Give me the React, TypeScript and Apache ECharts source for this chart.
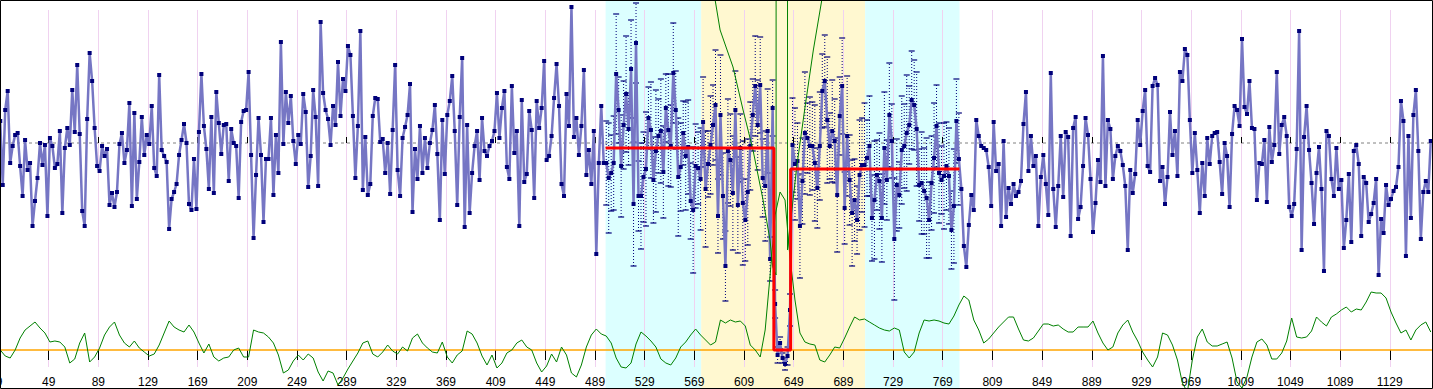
import React, { useEffect, useRef } from "react";
import * as echarts from "echarts";

// ---- axis ----
const X_MIN = 9;
const X_MAX = 1163;
const TICK_STEP = 40;

// ---- main series (sampled every 2 units from x = 10) ----
const MAIN_START = 10;
const MAIN_STEP = 2;
const mainSeg1 = [
  22, -42, 33, 52, -20, -3, 8, 10, -23, -53,
  3, -27, -20, -83, -58, -35, 0, -22, -2, -73,
  5, -3, -25, -21, 12, -70, -5, 15, -2, 53,
  11, 78, 9, -68, -83, 24, 90, 62, 15, -23,
  -28, -3, -13, -6, -62, -50, -64, -49, -1, 10,
  -20, -7, 40, -63, 30, -56, -19, 26, -12, 8,
  -1, 37, -25, -33, 68, -7, -13, -19, -86, -56,
  -49, -41, -12, 3, 19, 0, -61, -67, -16, -66,
  11, 69, 17, -6, -46, 26, -50, 51, 20, -11,
  18, 19, -38, 14, 0, -3, -55,
];
const mainSeg2 = [
  21, 32, 33, 71, -12, -95, -32, 25, -12, -79,
  -16, -16, 25, -52, 8, -30, 101, -1, 51, 20,
  47, 2, -21, 8, -1, 49, 31, -44, -13, 53,
  26, -43, 121, 50, 33, 24, -2, 37, 18, 81,
  27, 64, 52, 97, 88, 27, -35, 17, 112, -47,
  6, -52, -41, 27, 45, 44, 1, 4, -30, 0,
  -51, 13, 78, -27, -53, 5, 16, 28, 59, -69,
  -6, -36, 17, -30, 5, -25, 0, 13, 38, -11,
  -77, 23, -31, 28, 42, 67, 12, -62, 26, 85,
  -84, 18, -70, -30, -3, 12, -37,
];
const mainSeg3 = [
  25, -8, -13, -3, 2, 12, 50, 5, 35, 52,
  -24, -36, 57, -10, 12, -83, 43, -39, -31, 32,
  13, -55, 42, 15, 35, 82, -17, -13, 7, 45,
  79, 37, -41, -53, 49, 17, 136, 6, 25, -12,
  17, 73, -32, -7, -41, 12, -111, -20, 37, -20,
  -20, -35, -30, -20, 69, 33, -23, 18, 49, 14,
  74, -61, 100, -53, -53, -34, -26, 25, 13, -37,
  -8, 7, 12, -29, 35, 13, -3, 70, 33, -34,
  -24, 10, -13, -4, -58, -67, -23, -25, -36, 21,
  -46, -21, -2, 18, 38, -73,
];
const mainSeg4 = [
  28, -53, -123, -8, -17, -50, 33, -62, -5, -60,
  -77, -49, -3, 28, 57, 18, 58, -35, -43, 12,
  -116, 35, -161, -212, -200, -215, -221, -213, -167, -2,
  -21, -18, -83, -38, 10, 5, -3, -3, -20, -45,
  -3, 52, 62, 23, -3, 12, 2, -52, 27, 57,
  -65, 7, -37, -70, -57, -77, -32, -22, -22, -15,
  -3, -75, -57, -32, -38, -75, -5, -37, 28, 2,
  -96, -42, -52, -7, -3, 10, 18, 43, 38, 14,
  -42, -40, -48, -55, -77, -40, -15, 17, -30, -37,
  -33, -23, -33, -87, -63, 22, -16,
];
const mainSeg5 = [
  -46, -103, -124, -82, -52, -67, 23, 7, -3, -5,
  -7, -24, -63, 21, -28, -21, -83, 2, -74, -45,
  -61, -41, -53, -49, -38, 19, 51, -28, 7, -23,
  -13, -83, -34, -12, -41, -72, 70, -46, -84, -43,
  7, -54, 11, 6, -93, 15, 26, -76, -64, -23,
  25, 8, -36, -89, -60, -17, -39, 87, -43, 23,
  14, -36, -13, -3, -8, -22, -43, -107, -27, -50,
  -31, 23, -2, 32, 53, -23, -29, 57, 65, 58,
  -38, -24, -61, -34, 31, -12, 12, -33, 71, 62,
  94, 88, 23, -30, 10, -27,
];
const mainSeg6 = [
  -70, -20, -53, 5, -21, 7, 10, 11, -19, -51,
  0, -13, -64, 9, 37, 33, 17, 104, 36, 29,
  62, 15, 14, -57, -20, -21, 3, -59, 16, -19,
  -2, 71, -11, 18, 26, 7, -64, -73, -61, -6,
  112, -107, 6, 37, -7, -40, -81, -30, -4, -46,
  -128, 12, 7, -36, -53, -5, -46, -37, -105, -77,
  -31, -99, -8, -2, -21, -93, -34, -40, -79, -71,
  -60, -36, -132, -76, -90, -42, -62, -56, -48, -44,
  -24, 42, 22, -113, 7, -75, 28, 53, -8, -96,
  -49, -38, -49, 2,
];
const MEAN_LEVEL = 0;

// ---- error bars for the analysed window ----
const ERR_FIRST_INDEX = 244;
const errHalf = [
  42, 55, 38, 47, 60, 33, 51, 44, 58, 36,
  49, 62, 40, 35, 53, 45, 57, 31, 48, 43,
  61, 37, 52, 46, 34, 56, 41, 50, 39, 59,
  44, 32, 54, 47, 38, 63, 42, 36, 51, 45,
  58, 33, 49, 40, 55, 37, 60, 43, 35, 52,
  46, 57, 39, 48, 34, 62, 41, 53, 44, 36,
  50, 45, 48, 39, 55, 42, 22, 28, 14, 8,
  6, 5, 6, 9, 16, 47, 56, 38, 52, 43,
  61, 35, 49, 44, 58, 40, 54, 37, 46, 63,
  33, 51, 42, 57, 39, 48, 36, 60, 45, 53,
  41, 34, 55, 47, 62, 38, 50, 43, 59, 35,
  48, 44, 56, 40, 52, 37, 61, 46, 33, 54,
  42, 58, 39, 49, 45, 57, 36, 51, 43, 60,
  38, 47, 55, 41, 50, 34, 53, 44, 48, 39,
  57, 42, 46,
];

// ---- lower statistic (sampled every 4 units from x = 10) ----
const GREEN_START = 10;
const GREEN_STEP = 4;
const greenSeg1 = [
  0, -6, -8, 0, 12, 20, 24, 28, 22, 17,
  8, 9, 8, 3, -13, -9, 7, 17, -12, -7,
  2, 15, 23, 28, 15, 7, 3, 9, 2, -2,
  -6, -4, 5, 17, 29, 23, 20, 18, 25, 18,
  7, -3, 6, -7, -11, -8, -7, 0, 2,
];
const greenSeg2 = [
  -7, -7, 20, 18, 17, 13, 7, -5, -23, -20,
  -11, -5, -10, -4, -8, -22, -31, -21, -23, -35,
  -28, -19, -11, -3, 7, 9, -4, -7, -2, 5,
  -1, -4, 3, -1, 12, 16, 7, 2, -2, -3,
  8, -7, -13, -5, -1, 19, 16, 7,
];
const greenSeg3 = [
  -6, -15, -5, -18, -13, -3, 0, 7, 10, 3,
  0, -13, -22, -16, -4, -12, 3, -5, -23, -27,
  -15, 3, 15, 21, 16, 14, 7, -8, -17, -18,
  -13, 6, 18, 14, 9, 3, -9, -13, -15, -8,
  3, 8, 15, 21, 15, 10, 5, 8,
];
const greenSeg4 = [
  30, 27, 30, 28, 29, 24, 5, 0, -7, 20,
  75, 135, 158, 150, 92, 50, 17, 8, 6, 5,
  -10, -12, -5, 3, 2, 12, 23, 33, 30, 31,
  28, 25, 22, 20, 19, 22, 20, -2, -8, -2,
  17, 30, 29, 30, 29, 27, 26, 34, 45,
];
const greenSeg5 = [
  54, 50, 30, 20, 7, 11, 17, 23, 28, 33,
  33, 21, 10, 9, 12, 19, 26, 26, 24, 25,
  21, 18, 18, 23, 23, 23, 29, 17, 7, 0,
  3, 17, 25, 30, 18, 9, -2, -10, -17, -7,
  17, 15, 5, -10, -33, -42, -10, 13,
];
const greenSeg6 = [
  21, 8, 4, 4, 6, 8, -8, -32, -38, -27,
  -7, 8, 11, 5, -9, -9, -3, 9, 32, 13,
  12, 13, 19, 33, 28, 24, 33, 36, 40, 43,
  38, 41, 40, 48, 58, 57, 57, 52, 38, 27,
  17, 20, 10, 20, 25, 28, 18,
];
const BASE_LEVEL = 0;

// ---- change-point curve around the break ----
const curveLeftX = [584.4, 585.7, 589.7, 600.1, 608.2, 616.2, 624.3, 629.9, 632.1, 634.8, 634.8];
const curveLeftY = [360, 350, 320, 283, 240, 200, 150, 110, 83, 75, 380];
const curveRightX = [644.0, 644.0, 651.4, 658.1, 664.8, 671.6, 673.0];
const curveRightY = [380, 100, 183, 243, 300, 350, 365];

// ---- segment means (red step) ----
const stepX = [497.5, 633, 633, 646.5, 646.5, 782.5];
const stepY = [-5, -5, -207, -207, -26, -26];

// ---- shaded windows ----
const regionStart = [497.5, 574.5, 706.5];
const regionEnd = [574.5, 706.5, 782.5];
const regionColors = ["#dcffff", "#fff8d0", "#dcffff"];

const FONT = "'Liberation Sans', Arial, sans-serif";

export default function App() {
  const ref = useRef<HTMLDivElement>(null);

  useEffect(() => {
    document.body.style.margin = "0";
    if (!ref.current) return;
    const chart = echarts.init(ref.current, undefined, { renderer: "svg" });

    const mainValues = [...mainSeg1, ...mainSeg2, ...mainSeg3, ...mainSeg4, ...mainSeg5, ...mainSeg6];
    const mainData = mainValues.map((v, i) => [MAIN_START + MAIN_STEP * i, v]);
    const greenValues = [...greenSeg1, ...greenSeg2, ...greenSeg3, ...greenSeg4, ...greenSeg5, ...greenSeg6];
    const greenData = greenValues.map((v, j) => [GREEN_START + GREEN_STEP * j, v]);
    const errData = errHalf.map((e, k) => {
      const i = ERR_FIRST_INDEX + k;
      const v = mainValues[i];
      return [MAIN_START + MAIN_STEP * i, v - e, v + e];
    });
    const regionData = regionStart.map((s, k) => [s, regionEnd[k], k]);

    const xBase = { type: "value", min: X_MIN, max: X_MAX, interval: TICK_STEP };

    const option: any = {
      animation: false,
      backgroundColor: "#ffffff",
      grid: [
        { left: -1, top: 0, width: 1433, height: 389, containLabel: false, outerBoundsMode: "none" },
        { left: -1, top: 10, width: 1433, height: 357, containLabel: false, outerBoundsMode: "none" },
      ],
      xAxis: [
        {
          ...xBase,
          gridIndex: 0,
          position: "bottom",
          offset: -14,
          axisLine: { show: false },
          axisTick: { show: true, inside: true, length: 6, lineStyle: { color: "#000", width: 1 } },
          axisLabel: {
            show: true,
            margin: 1,
            fontSize: 12,
            color: "#000",
            fontFamily: FONT,
            showMaxLabel: false,
            showMinLabel: true,
            formatter: (v: number) => String(v),
          },
          splitLine: { show: false },
          z: 3,
        },
        {
          ...xBase,
          gridIndex: 0,
          position: "top",
          axisLine: { show: false },
          axisTick: { show: true, inside: true, length: 10, lineStyle: { color: "#000", width: 1 } },
          axisLabel: { show: false },
          splitLine: { show: false },
          z: 3,
        },
        {
          ...xBase,
          gridIndex: 1,
          axisLine: { show: false },
          axisTick: { show: false },
          axisLabel: { show: false },
          splitLine: { show: true, lineStyle: { color: "#f0d2f0", width: 1 } },
          z: 1,
        },
      ],
      yAxis: [
        { gridIndex: 0, type: "value", min: -246, max: 143, show: false },
        { gridIndex: 0, type: "value", min: -39, max: 350, show: false },
        { gridIndex: 1, type: "value", min: 0, max: 1, show: false },
      ],
      series: [
        {
          type: "custom",
          name: "windows",
          xAxisIndex: 0,
          yAxisIndex: 0,
          z: 0,
          silent: true,
          data: regionData,
          encode: { x: [0, 1] },
          renderItem: (params: any, api: any) => {
            const cs = params.coordSys;
            const x0 = api.coord([api.value(0), 0])[0];
            const x1 = api.coord([api.value(1), 0])[0];
            return {
              type: "rect",
              shape: { x: x0, y: cs.y, width: x1 - x0, height: cs.height },
              style: { fill: regionColors[api.value(2)] },
            };
          },
        },
        {
          type: "line",
          name: "mean",
          xAxisIndex: 0,
          yAxisIndex: 0,
          z: 1,
          silent: true,
          data: [[X_MIN, MEAN_LEVEL], [X_MAX, MEAN_LEVEL]],
          symbol: "none",
          lineStyle: { color: "#808080", type: [3, 3], width: 1 },
        },
        {
          type: "custom",
          name: "error",
          xAxisIndex: 0,
          yAxisIndex: 0,
          z: 2,
          silent: true,
          data: errData,
          encode: { x: 0, y: [1, 2] },
          renderItem: (params: any, api: any) => {
            const x = api.value(0);
            const lo = api.coord([x, api.value(1)]);
            const hi = api.coord([x, api.value(2)]);
            const c = "#00007a";
            return {
              type: "group",
              children: [
                { type: "line", shape: { x1: lo[0], y1: lo[1], x2: hi[0], y2: hi[1] }, style: { stroke: c, lineWidth: 1, lineDash: [1, 2] } },
                { type: "line", shape: { x1: hi[0] - 3, y1: hi[1], x2: hi[0] + 3, y2: hi[1] }, style: { stroke: c, lineWidth: 1.2 } },
                { type: "line", shape: { x1: lo[0] - 3, y1: lo[1], x2: lo[0] + 3, y2: lo[1] }, style: { stroke: c, lineWidth: 1.2 } },
              ],
            };
          },
        },
        {
          type: "line",
          name: "signal",
          xAxisIndex: 0,
          yAxisIndex: 0,
          z: 3,
          data: mainData,
          symbol: "rect",
          symbolSize: 4,
          showSymbol: true,
          showAllSymbol: true,
          itemStyle: { color: "#00007a" },
          lineStyle: { color: "#7676c4", width: 2.5 },
        },
        {
          type: "line",
          name: "base",
          xAxisIndex: 0,
          yAxisIndex: 1,
          z: 4,
          silent: true,
          data: [[X_MIN, BASE_LEVEL], [X_MAX, BASE_LEVEL]],
          symbol: "none",
          lineStyle: { color: "#ffa500", width: 1.5 },
        },
        {
          type: "line",
          name: "statistic",
          xAxisIndex: 0,
          yAxisIndex: 1,
          z: 4,
          data: greenData,
          symbol: "none",
          lineStyle: { color: "#008000", width: 1 },
        },
        {
          type: "line",
          name: "curveL",
          xAxisIndex: 0,
          yAxisIndex: 1,
          z: 4,
          data: curveLeftX.map((x, k) => [x, curveLeftY[k]]),
          symbol: "none",
          lineStyle: { color: "#008000", width: 1 },
        },
        {
          type: "line",
          name: "curveR",
          xAxisIndex: 0,
          yAxisIndex: 1,
          z: 4,
          data: curveRightX.map((x, k) => [x, curveRightY[k]]),
          symbol: "none",
          lineStyle: { color: "#008000", width: 1 },
        },
        {
          type: "line",
          name: "means",
          xAxisIndex: 0,
          yAxisIndex: 0,
          z: 5,
          data: stepX.map((x, k) => [x, stepY[k]]),
          symbol: "none",
          lineStyle: { color: "#ff0000", width: 3 },
        },
      ],
      graphic: [
        {
          type: "rect",
          z: 100,
          silent: true,
          shape: { x: 0.5, y: 0.5, width: 1432, height: 388 },
          style: { fill: "none", stroke: "#000", lineWidth: 1 },
        },
      ],
    };

    chart.setOption(option);
    return () => chart.dispose();
  }, []);

  return <div ref={ref} style={{ width: 1433, height: 389 }} />;
}
